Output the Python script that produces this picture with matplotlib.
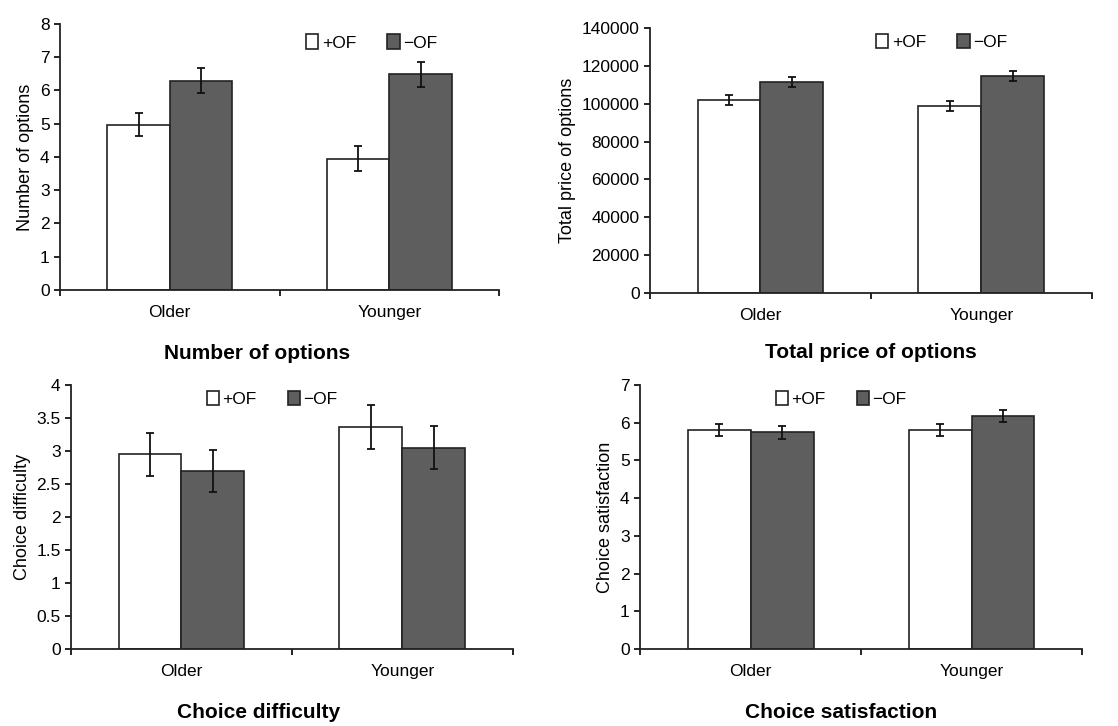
import numpy as np
import matplotlib
matplotlib.use('Agg')
import matplotlib.pyplot as plt

plt.rcParams['font.family'] = ['Liberation Sans', 'DejaVu Sans']

groups = ['Older', 'Younger']
series = ['+OF', '\u2212OF']

# Number of options
n_opt_pos = [4.97, 3.95]
n_opt_neg = [6.29, 6.48]
n_opt_pos_err = [0.35, 0.38]
n_opt_neg_err = [0.38, 0.37]

# Total price of options
price_pos = [102000, 98600]
price_neg = [111600, 114800]
price_pos_err = [2600, 2600]
price_neg_err = [2600, 2700]

# Choice difficulty
diff_pos = [2.95, 3.36]
diff_neg = [2.70, 3.05]
diff_pos_err = [0.33, 0.33]
diff_neg_err = [0.32, 0.33]

# Choice satisfaction
sat_pos = [5.80, 5.80]
sat_neg = [5.75, 6.17]
sat_pos_err = [0.16, 0.16]
sat_neg_err = [0.17, 0.16]

panels = [
    dict(pos=n_opt_pos, neg=n_opt_neg, pe=n_opt_pos_err, ne=n_opt_neg_err,
         ylim=8, step=1, ylabel='Number of options', title='Number of options',
         rect=[0.0537, 0.6006, 0.3927, 0.3664], leg=(0.71, 0.93), title_x=257, title_y=354),
    dict(pos=price_pos, neg=price_neg, pe=price_pos_err, ne=price_neg_err,
         ylim=140000, step=20000, ylabel='Total price of options', title='Total price of options',
         rect=[0.5814, 0.5964, 0.3953, 0.365], leg=(0.66, 0.947), title_x=871, title_y=353),
    dict(pos=diff_pos, neg=diff_neg, pe=diff_pos_err, ne=diff_neg_err,
         ylim=4, step=0.5, ylabel='Choice difficulty', title='Choice difficulty',
         rect=[0.0635, 0.1061, 0.3953, 0.3636], leg=(0.455, 0.947), title_x=259, title_y=713),
    dict(pos=sat_pos, neg=sat_neg, pe=sat_pos_err, ne=sat_neg_err,
         ylim=7, step=1, ylabel='Choice satisfaction', title='Choice satisfaction',
         rect=[0.5725, 0.1061, 0.3953, 0.3636], leg=(0.455, 0.947), title_x=841, title_y=713),
]

fig = plt.figure(figsize=(11.18, 7.26), dpi=100)
dark = '#5e5e5e'
w = 0.285
x = np.arange(len(groups))

for p in panels:
    ax = fig.add_axes(p['rect'])
    ax.bar(x - w/2, p['pos'], w, color='white', edgecolor='#222222', linewidth=1.2, label=series[0])
    ax.bar(x + w/2, p['neg'], w, color=dark, edgecolor='#222222', linewidth=1.2, label=series[1])
    ax.errorbar(x - w/2, p['pos'], yerr=p['pe'], fmt='none', ecolor='#111111', elinewidth=1.3, capsize=3, capthick=1.3)
    ax.errorbar(x + w/2, p['neg'], yerr=p['ne'], fmt='none', ecolor='#111111', elinewidth=1.3, capsize=3, capthick=1.3)
    ax.set_xlim(-0.5, 1.5)
    ax.set_ylim(0, p['ylim'])
    ax.set_yticks(np.arange(0, p['ylim'] + p['step'] / 2, p['step']))
    ax.set_yticklabels(['%g' % v for v in ax.get_yticks()])
    ax.set_xticks(x)
    ax.set_xticklabels(groups)
    ax.tick_params(axis='x', which='major', length=0, labelsize=12.5, pad=11)
    ax.set_xticks([-0.5, 0.5, 1.5], minor=True)
    ax.tick_params(axis='x', which='minor', length=4, width=1.2, direction='out')
    ax.tick_params(axis='y', length=4, width=1.2, labelsize=12.5, direction='out')
    for s in ['top', 'right']:
        ax.spines[s].set_visible(False)
    for s in ['left', 'bottom']:
        ax.spines[s].set_linewidth(1.3)
        ax.spines[s].set_color('#222222')
    ax.set_ylabel(p['ylabel'], fontsize=13, labelpad=4)
    ax.legend(loc='center', bbox_to_anchor=p['leg'], ncol=2, frameon=False,
              fontsize=12.5, handlelength=0.7, handleheight=0.9, handletextpad=0.2,
              columnspacing=1.8)
    fig.text(p['title_x'] / 1118, 1 - p['title_y'] / 726,
             p['title'], ha='center', va='center', fontsize=15, fontweight='bold')

fig.savefig('out.png', dpi=100, facecolor='white')
